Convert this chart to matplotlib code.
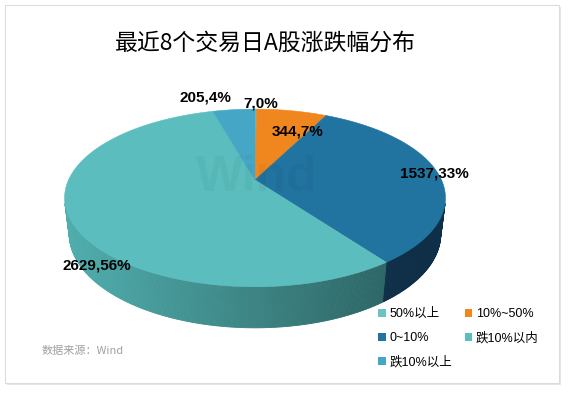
import numpy as np
import matplotlib
matplotlib.use("Agg")
import matplotlib.pyplot as plt
from matplotlib.patches import Polygon, Patch, FancyBboxPatch
import matplotlib.colors as mcolors

plt.rcParams['font.family'] = ['Liberation Sans', 'Noto Sans CJK SC', 'DejaVu Sans']

# ---- data ----
title = "最近8个交易日A股涨跌幅分布"
categories = ["50%以上", "10%~50%", "0~10%", "跌10%以内", "跌10%以上"]
counts = [7, 344, 1537, 2629, 205]
top_colors = ["#6CC3C3", "#F0861E", "#2274A0", "#5BBDBD", "#46A6C6"]
source = "数据来源：Wind"

# ---- geometry (style) ----
W, H = 568, 393
cx, cy = 255, 180
fx, fy = 815, 793
D = 4.37
elev = np.radians(28)
s_, c_ = np.sin(elev), np.cos(elev)
thick = 0.227


def proj(x, z, yh):
    Yc = z * s_ - yh * c_
    Dc = D - z * c_ - yh * s_
    return cx + fx * x / Dc, cy + fy * Yc / Dc


def rim(phi_deg, yh):
    p = np.radians(phi_deg)
    return proj(np.sin(p), -np.cos(p), yh)


fig = plt.figure(figsize=(W / 100, H / 100), dpi=100)
fig.patch.set_facecolor("white")
ax = fig.add_axes([0, 0, 1, 1])
ax.set_xlim(0, W)
ax.set_ylim(H, 0)
ax.axis("off")

# card frame
ax.add_patch(FancyBboxPatch((7, 7), W - 14, H - 15, boxstyle="square,pad=0",
                            facecolor="#e6e6e6", edgecolor="none", zorder=0))
ax.add_patch(FancyBboxPatch((5, 5), W - 14, H - 15, boxstyle="square,pad=0",
                            facecolor="white", edgecolor="#dcdcdc", lw=0.8, zorder=0.5))

total = float(sum(counts))
fracs = [v / total for v in counts]
bounds = np.concatenate([[0], np.cumsum(fracs) * 360])

side_left = {3: "#50ADAD", 4: "#3E90A8", 0: "#50ADAD", 1: "#B0601A"}
side_right = {3: "#2D6565", 4: "#2E6E80", 0: "#2D6565", 1: "#A0561A"}

# visible wall range
vis_lo = np.degrees(np.arccos(-1 / (D * c_)))
vis_hi = 360 - vis_lo

# side walls
for i in range(len(counts)):
    a0, a1 = max(bounds[i], vis_lo), min(bounds[i + 1], vis_hi)
    if a1 <= a0:
        continue
    n = max(2, int((a1 - a0) / 0.5))
    phis = np.linspace(a0, a1, n + 1)
    for j in range(n):
        p0, p1 = phis[j], phis[j + 1]
        pts = [rim(p0, 0), rim(p1, 0), rim(p1, -thick), rim(p0, -thick)]
        xm = np.mean([p[0] for p in pts])
        if i == 2:
            col = "#0E2F47"
        else:
            t = np.clip((xm - 70) / (390 - 70), 0, 1)
            cl = np.array(mcolors.to_rgb(side_left.get(i, "#50ADAD")))
            cr = np.array(mcolors.to_rgb(side_right.get(i, "#2D6565")))
            col = cl * (1 - t) + cr * t
        ax.add_patch(Polygon(pts, closed=True, facecolor=col, edgecolor=col,
                             lw=0.6, zorder=2))

# top faces
for i in range(len(counts)):
    phis = np.linspace(bounds[i], bounds[i + 1], max(2, int((bounds[i + 1] - bounds[i]) / 0.5)) + 1)
    pts = [proj(0, 0, 0)] + [rim(p, 0) for p in phis]
    ax.add_patch(Polygon(pts, closed=True, facecolor=top_colors[i],
                         edgecolor=top_colors[i], lw=0.4, zorder=3))

# watermark
ax.text(cx + 2, cy - 2, "Wind", fontsize=36, fontweight="bold", color="black",
        alpha=0.035, ha="center", va="center", zorder=4, family="Liberation Sans")

# labels
pcts = [int(round(f * 100)) for f in fracs]
label_pos = [(261, 103), (298, 131), (434, 173), (97, 265), (205, 98)]
for i, (v, p) in enumerate(zip(counts, pcts)):
    x, y = label_pos[i]
    ax.text(x, y, f"{v},{p}%", fontsize=11, fontweight="bold", color="black",
            ha="center", va="center", zorder=6)

# title
ax.text(265, 43, title, fontsize=16.5, ha="center", va="center",
        family=["Noto Sans CJK SC"], color="black", zorder=6)

# source
ax.text(42, 351, source, fontsize=8, ha="left", va="center", color="#a0a0a0",
        family=["Noto Sans CJK SC", "Liberation Sans"], zorder=6)

# legend (row-wise order with ncol=2)
order = [0, 2, 4, 1, 3]
handles = [Patch(facecolor=top_colors[k], edgecolor="none") for k in order]
labels = [categories[k] for k in order]
leg = ax.legend(handles, labels, ncol=2, loc="upper left",
                bbox_to_anchor=(378, 308), bbox_transform=ax.transData,
                frameon=False, fontsize=9, handlelength=0.6, handleheight=0.6,
                handletextpad=0.3, labelspacing=0.95, columnspacing=1.0,
                borderpad=0, borderaxespad=0)
leg.set_zorder(7)

fig.savefig("out.png", dpi=100)
